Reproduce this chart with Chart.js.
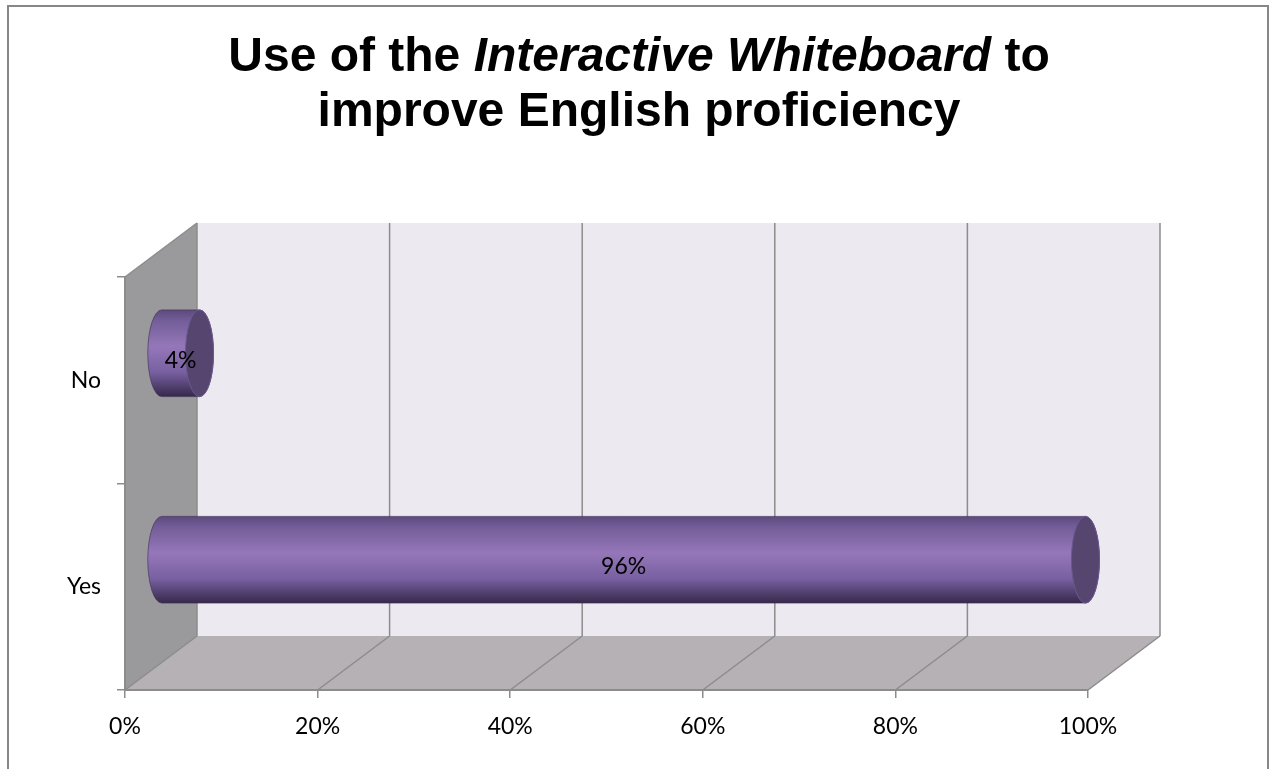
<!DOCTYPE html>
<html>
<head>
<meta charset="utf-8">
<script src="https://cdn.jsdelivr.net/npm/chart.js@4/dist/chart.umd.min.js"></script>
<style>
  html, body { margin: 0; padding: 0; background: #fff; }
</style>
</head>
<body>
<canvas id="chart" width="1272" height="769"></canvas>
<script>
// Data
const categories = ["No", "Yes"];
const values = [4, 96];
const valueLabels = ["4%", "96%"];
const xTicks = [0, 20, 40, 60, 80, 100];
const titleLine1 = [
  { text: "Use of the ", italic: false },
  { text: "Interactive Whiteboard", italic: true },
  { text: " to", italic: false },
];
const titleLine2 = "improve English proficiency";

// 3D look
const DEPTH_X = 72;
const DEPTH_Y = -54;
const CAP_RX = 14;
const lineGray = "#8c8c8c";
const labelFont = { family: "Lato", size: 23 };

// background, frame, walls and floor
const backdrop = {
  id: "backdrop",
  beforeDraw(chart) {
    const { ctx, chartArea: a } = chart;
    const xs = chart.scales.x;
    ctx.save();
    ctx.fillStyle = "#fff";
    ctx.fillRect(0, 0, chart.width, chart.height);

    ctx.strokeStyle = "#878787";
    ctx.lineWidth = 2;
    ctx.strokeRect(8, 6, 1260, chart.height + 10);

    // back wall
    ctx.fillStyle = "#eceaf0";
    ctx.fillRect(a.left + DEPTH_X, a.top + DEPTH_Y, a.right - a.left, a.bottom - a.top);

    // side wall
    ctx.fillStyle = "#9a999c";
    ctx.beginPath();
    ctx.moveTo(a.left, a.top);
    ctx.lineTo(a.left + DEPTH_X, a.top + DEPTH_Y);
    ctx.lineTo(a.left + DEPTH_X, a.bottom + DEPTH_Y);
    ctx.lineTo(a.left, a.bottom);
    ctx.closePath();
    ctx.fill();

    // floor
    ctx.fillStyle = "#b5b1b5";
    ctx.beginPath();
    ctx.moveTo(a.left, a.bottom);
    ctx.lineTo(a.left + DEPTH_X, a.bottom + DEPTH_Y);
    ctx.lineTo(a.right + DEPTH_X, a.bottom + DEPTH_Y);
    ctx.lineTo(a.right, a.bottom);
    ctx.closePath();
    ctx.fill();

    // grid lines on the wall and floor
    ctx.strokeStyle = lineGray;
    ctx.lineWidth = 1.5;
    xTicks.forEach((v) => {
      const px = xs.getPixelForValue(v);
      ctx.beginPath();
      ctx.moveTo(px + DEPTH_X, a.top + DEPTH_Y);
      ctx.lineTo(px + DEPTH_X, a.bottom + DEPTH_Y);
      ctx.moveTo(px, a.bottom);
      ctx.lineTo(px + DEPTH_X, a.bottom + DEPTH_Y);
      ctx.stroke();
    });
    ctx.beginPath();
    ctx.moveTo(a.left, a.top);
    ctx.lineTo(a.left + DEPTH_X, a.top + DEPTH_Y);
    ctx.stroke();
    ctx.restore();
  },
};

// cylinders and value labels
const cylinders = {
  id: "cylinders",
  afterDatasetsDraw(chart) {
    const { ctx } = chart;
    const meta = chart.getDatasetMeta(0);
    ctx.save();
    meta.data.forEach((bar, i) => {
      const p = bar.getProps(["x", "y", "base", "height"], true);
      const x0 = p.base + DEPTH_X / 2;
      const x1 = p.x + DEPTH_X / 2;
      const yc = p.y + DEPTH_Y / 2;
      const ry = p.height / 2;
      const top = yc - ry;
      const bottom = yc + ry;

      const grad = ctx.createLinearGradient(0, top, 0, bottom);
      grad.addColorStop(0, "#5c4a7c");
      grad.addColorStop(0.12, "#735d98");
      grad.addColorStop(0.42, "#9577b9");
      grad.addColorStop(0.72, "#7860a0");
      grad.addColorStop(0.9, "#4d3c69");
      grad.addColorStop(1, "#35294a");

      ctx.beginPath();
      ctx.moveTo(x0, top);
      ctx.lineTo(x1, top);
      ctx.ellipse(x1, yc, CAP_RX, ry, 0, -Math.PI / 2, Math.PI / 2);
      ctx.lineTo(x0, bottom);
      ctx.ellipse(x0, yc, CAP_RX, ry, 0, Math.PI / 2, Math.PI * 1.5);
      ctx.closePath();
      ctx.fillStyle = grad;
      ctx.fill();
      ctx.strokeStyle = "rgba(60,45,85,0.6)";
      ctx.lineWidth = 1;
      ctx.stroke();

      ctx.beginPath();
      ctx.ellipse(x1, yc, CAP_RX, ry, 0, 0, Math.PI * 2);
      ctx.fillStyle = "#55456f";
      ctx.fill();
      ctx.strokeStyle = "#6b5790";
      ctx.stroke();

      ctx.fillStyle = "#000";
      ctx.font = labelFont.size + "px " + labelFont.family;
      ctx.textAlign = "center";
      ctx.textBaseline = "middle";
      ctx.fillText(valueLabels[i], (x0 + x1) / 2, yc + 7);
    });
    ctx.restore();
  },
};

// title with an italic part
const mixedTitle = {
  id: "mixedTitle",
  afterDraw(chart) {
    const { ctx } = chart;
    const cx = 639;
    const plain = "bold 48px 'Liberation Sans', Arial, sans-serif";
    const italic = "italic bold 48px 'Liberation Sans', Arial, sans-serif";
    ctx.save();
    ctx.fillStyle = "#000";
    ctx.textBaseline = "alphabetic";
    ctx.textAlign = "left";
    let total = 0;
    titleLine1.forEach((s) => {
      ctx.font = s.italic ? italic : plain;
      total += ctx.measureText(s.text).width;
    });
    let x = cx - total / 2;
    titleLine1.forEach((s) => {
      ctx.font = s.italic ? italic : plain;
      ctx.fillText(s.text, x, 71);
      x += ctx.measureText(s.text).width;
    });
    ctx.font = plain;
    ctx.textAlign = "center";
    ctx.fillText(titleLine2, cx, 126);
    ctx.restore();
  },
};

const ctx = document.getElementById("chart").getContext("2d");
new Chart(ctx, {
  type: "bar",
  data: {
    labels: categories,
    datasets: [
      {
        data: values,
        backgroundColor: "rgba(0,0,0,0)",
        borderWidth: 0,
        categoryPercentage: 1,
        barPercentage: 0.42,
      },
    ],
  },
  options: {
    indexAxis: "y",
    responsive: false,
    animation: false,
    devicePixelRatio: 1,
    layout: { padding: { top: 277, right: 184, bottom: 19, left: 0 } },
    plugins: {
      legend: { display: false },
      tooltip: { enabled: false },
    },
    scales: {
      x: {
        type: "linear",
        min: 0,
        max: 100,
        afterBuildTicks: (s) => {
          s.ticks = xTicks.map((v) => ({ value: v }));
        },
        afterFit: (s) => {
          s.height = 60;
        },
        ticks: {
          callback: (v) => v + "%",
          font: labelFont,
          color: "#000",
          padding: 15,
          maxRotation: 0,
        },
        grid: { drawOnChartArea: false, tickLength: 8, color: lineGray, lineWidth: 1.5 },
        border: { color: lineGray, width: 2 },
      },
      y: {
        type: "category",
        offset: true,
        afterFit: (s) => {
          s.width = 125;
        },
        ticks: { font: labelFont, color: "#000", padding: 16 },
        grid: { offset: true, drawOnChartArea: false, tickLength: 8, color: lineGray, lineWidth: 1.5 },
        border: { color: lineGray, width: 2 },
      },
    },
  },
  plugins: [backdrop, cylinders, mixedTitle],
});
</script>
</body>
</html>
